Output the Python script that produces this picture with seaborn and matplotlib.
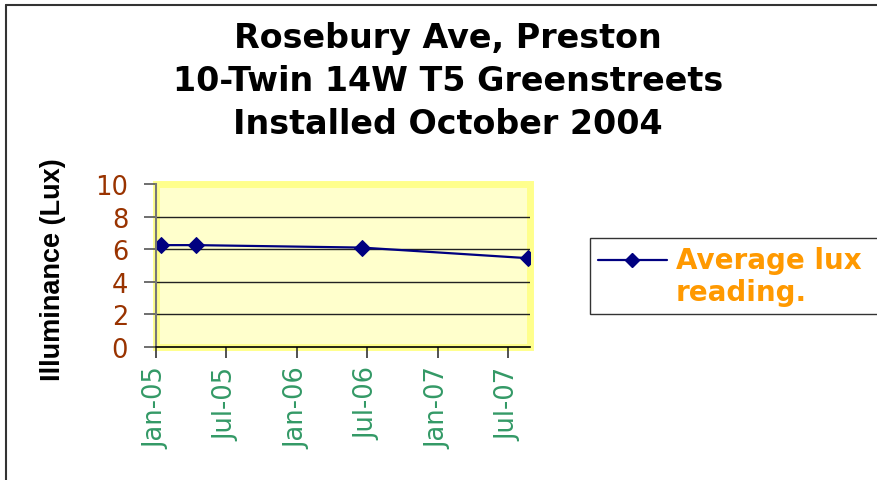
import matplotlib
matplotlib.use("Agg")
import matplotlib.pyplot as plt
import matplotlib.dates as mdates
from matplotlib.patches import Rectangle
from matplotlib.lines import Line2D
from matplotlib.legend_handler import HandlerLine2D
import numpy as np
import seaborn as sns
import pandas as pd

# ---- data ----
dates = ["2005-01-14", "2005-04-14", "2006-06-17", "2007-08-21"]
lux = [6.25, 6.25, 6.1, 5.45]
series_name = "Average lux\nreading."
x_ticks = ["2005-01-01", "2005-07-01", "2006-01-01", "2006-07-01", "2007-01-01", "2007-07-01"]
y_ticks = [0, 2, 4, 6, 8, 10]
title_lines = ["Rosebury Ave, Preston", "10-Twin 14W T5 Greenstreets", "Installed October 2004"]
y_label = "Illuminance (Lux)"

df = pd.DataFrame({"date": pd.to_datetime(dates), "lux": lux, "series": series_name})

sns.set_theme(style="white")
plt.rcParams["font.family"] = ["DejaVu Sans"]

W, H = 878, 481
fig = plt.figure(figsize=(W / 100, H / 100), dpi=100)
fig.patch.set_facecolor("white")

ax_left, ax_right, ax_top, ax_bot = 156, 530, 185, 348
ax = fig.add_axes([ax_left / W, 1 - ax_bot / H, (ax_right - ax_left) / W, (ax_bot - ax_top) / H])
ax.set_facecolor("#ffffcc")

sns.lineplot(data=df, x="date", y="lux", hue="series", palette=["#000080"],
             marker="D", markersize=8.5, markeredgecolor="#000080", linewidth=1.6,
             ax=ax, legend=False)

ax.set_ylim(0, 10)
ax.set_xlim(pd.Timestamp("2005-01-01"), pd.Timestamp("2007-08-27"))
ax.set_yticks(y_ticks)
ax.set_xticks(pd.to_datetime(x_ticks))
ax.xaxis.set_major_formatter(mdates.DateFormatter("%b-%y"))
ax.set_xlabel("")
ax.set_ylabel("")

for yv in y_ticks[1:-1]:
    ax.axhline(yv, color="#222222", lw=1.0, zorder=1)

ax.tick_params(axis="y", direction="out", length=9, width=1.2, color="#555555",
               labelsize=18.5, labelcolor="#993300", pad=11, left=True)
ax.tick_params(axis="x", direction="out", length=8, width=1.2, color="#333333",
               labelsize=18.5, labelcolor="#339966", pad=6, bottom=True, labelrotation=90)

for s in ["top", "right"]:
    ax.spines[s].set_visible(False)
ax.spines["left"].set_color("#777777")
ax.spines["left"].set_linewidth(1.5)
ax.spines["bottom"].set_color("#000000")
ax.spines["bottom"].set_linewidth(1.2)

# yellow border around plot area
border = Rectangle((0.0, 0.0), 1.0, 1.0, transform=ax.transAxes, fill=False,
                   edgecolor="#ffff8c", linewidth=5, clip_on=False, zorder=0.5)
ax.add_patch(border)

# title
baselines = [48, 91, 134]
for t, b in zip(title_lines, baselines):
    fig.text(448 / W, 1 - b / H, t, ha="center", va="baseline", fontsize=24,
             fontweight="bold", color="black")

# y label
fig.text(53 / W, 1 - 270 / H, y_label, rotation=90, ha="center", va="center",
         fontsize=19.5, fontweight="bold", family="Liberation Sans", color="black")


# legend handle aligned with first text line
class TopLineHandler(HandlerLine2D):
    def create_artists(self, legend, orig_handle, xdescent, ydescent, width, height, fontsize, trans):
        arts = super().create_artists(legend, orig_handle, xdescent, ydescent, width, height, fontsize, trans)
        for a in arts:
            a.set_ydata(np.asarray(a.get_ydata(), dtype=float) + 0.62 * fontsize)
        return arts


handle = Line2D([], [], color="#000080", marker="D", markersize=7.5, lw=1.6)
leg = fig.legend([handle], [series_name], loc="upper left",
                 bbox_to_anchor=(590 / W, 1 - 315 / H, 0.4, 76 / H),
                 bbox_transform=fig.transFigure, mode="expand", borderaxespad=0,
                 frameon=True, fancybox=False, handlelength=2.5, handletextpad=0.3,
                 borderpad=0.28, handler_map={Line2D: TopLineHandler()},
                 prop={"size": 20, "weight": "bold"})
for txt in leg.get_texts():
    txt.set_color("#ff9900")
    txt.set_linespacing(1.18)
frame = leg.get_frame()
frame.set_edgecolor("#000000")
frame.set_linewidth(1.0)

# outer frame
fig.add_artist(Line2D([6 / W, 6 / W], [0, 1 - 6 / H], transform=fig.transFigure, color="#333333", lw=1.5))
fig.add_artist(Line2D([6 / W, 1], [1 - 6 / H, 1 - 6 / H], transform=fig.transFigure, color="#333333", lw=1.5))

fig.savefig("out.png", dpi=100)
